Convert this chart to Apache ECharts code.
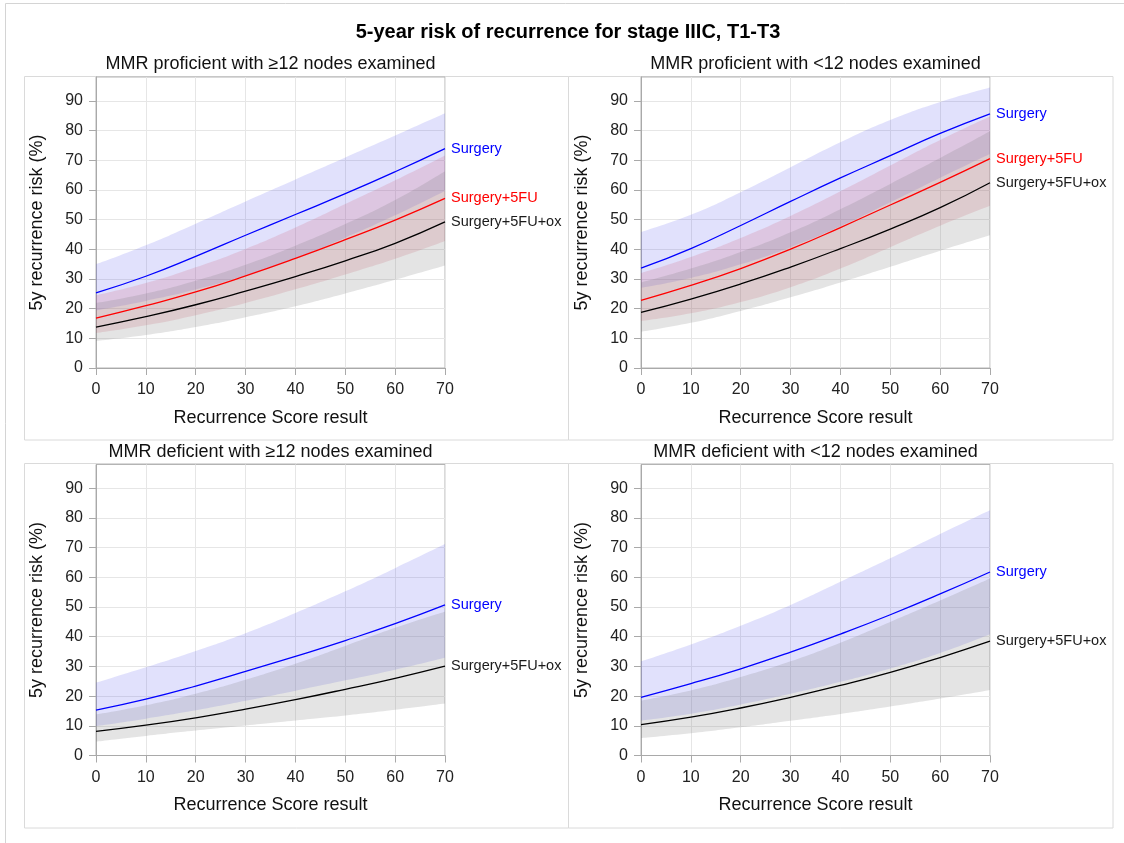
<!DOCTYPE html>
<html>
<head>
<meta charset="utf-8">
<title>5-year risk of recurrence for stage IIIC, T1-T3</title>
<script src="https://cdn.jsdelivr.net/npm/echarts@6/dist/echarts.min.js"></script>
<style>
  html, body { margin: 0; padding: 0; background: #ffffff; }
  #chart { width: 1124px; height: 843px; }
</style>
</head>
<body>
<div id="chart"></div>
<script>
// Recurrence Score grid and axis ticks
const scores = [0, 10, 20, 30, 40, 50, 60, 70];
const yTicks = [0, 10, 20, 30, 40, 50, 60, 70, 80, 90];

const treatments = ['Surgery', 'Surgery+5FU', 'Surgery+5FU+ox'];
const panelTitles = [
  'MMR proficient with \u226512 nodes examined',
  'MMR proficient with <12 nodes examined',
  'MMR deficient with \u226512 nodes examined',
  'MMR deficient with <12 nodes examined'
];

// MMR proficient, >=12 nodes: estimate and 95% band per treatment (%)
const p1Surgery   = [25.3, 30.9, 37.6, 44.7, 51.7, 58.7, 66.1, 73.9];
const p1SurgeryLo = [19.4, 22.6, 26.4, 31.2, 37.0, 43.9, 51.4, 59.6];
const p1SurgeryHi = [34.9, 41.3, 48.6, 56.1, 63.5, 70.9, 78.3, 85.8];
const p1Fu        = [16.8, 21.0, 25.6, 31.0, 36.9, 43.2, 49.8, 57.1];
const p1FuLo      = [11.8, 14.4, 17.8, 21.9, 26.5, 31.5, 36.8, 42.8];
const p1FuHi      = [24.5, 28.6, 33.9, 40.1, 47.3, 55.2, 63.2, 71.6];
const p1Ox        = [13.8, 17.3, 21.3, 25.9, 30.8, 36.1, 42.0, 49.2];
const p1OxLo      = [9.1, 11.1, 13.8, 17.1, 20.8, 25.1, 29.7, 34.5];
const p1OxHi      = [21.9, 25.1, 29.4, 34.8, 41.2, 48.5, 56.6, 66.3];

// MMR proficient, <12 nodes
const p2Surgery   = [33.6, 40.2, 48.0, 56.1, 64.0, 71.5, 79.0, 85.6];
const p2SurgeryLo = [27.0, 30.3, 34.9, 40.7, 47.7, 55.8, 64.1, 72.1];
const p2SurgeryHi = [45.8, 51.6, 59.2, 67.6, 76.0, 83.5, 89.6, 94.5];
const p2Fu        = [22.8, 27.8, 33.5, 40.0, 47.3, 54.9, 62.5, 70.5];
const p2FuLo      = [15.8, 18.4, 22.2, 27.2, 33.5, 40.7, 47.9, 54.6];
const p2FuHi      = [32.0, 37.4, 43.8, 51.2, 59.5, 68.2, 76.8, 84.7];
const p2Ox        = [18.7, 23.2, 28.3, 34.0, 40.2, 46.8, 54.0, 62.4];
const p2OxLo      = [12.2, 15.2, 19.2, 23.8, 28.8, 34.1, 39.5, 44.7];
const p2OxHi      = [28.8, 33.5, 39.1, 45.7, 53.5, 62.0, 70.7, 79.7];

// MMR deficient, >=12 nodes
const p3Surgery   = [15.3, 19.0, 23.4, 28.3, 33.4, 38.7, 44.4, 50.7];
const p3SurgeryLo = [9.9, 12.4, 15.2, 18.4, 21.8, 25.3, 28.9, 32.9];
const p3SurgeryHi = [24.5, 29.7, 35.2, 41.2, 48.0, 55.3, 63.1, 71.2];
const p3Ox        = [8.1, 10.2, 12.7, 15.6, 18.8, 22.3, 26.0, 30.1];
const p3OxLo      = [4.7, 6.6, 8.4, 10.1, 11.8, 13.5, 15.4, 17.5];
const p3OxHi      = [13.8, 16.9, 20.8, 25.5, 30.9, 36.9, 43.0, 48.4];

// MMR deficient, <12 nodes
const p4Surgery   = [19.6, 24.2, 29.2, 34.8, 40.9, 47.4, 54.4, 61.8];
const p4SurgeryLo = [11.8, 14.1, 17.2, 20.8, 24.8, 29.3, 34.5, 40.8];
const p4SurgeryHi = [31.7, 37.4, 43.7, 50.7, 58.5, 66.4, 74.6, 82.6];
const p4Ox        = [10.4, 12.9, 16.0, 19.6, 23.6, 28.0, 33.0, 38.5];
const p4OxLo      = [5.9, 7.5, 9.5, 11.7, 14.0, 16.5, 19.2, 22.1];
const p4OxHi      = [18.5, 21.9, 26.4, 31.7, 38.0, 45.0, 52.2, 59.6];

const FONT = '"Liberation Sans", Arial, Helvetica, sans-serif';
const lineColors = { 'Surgery': '#0000ff', 'Surgery+5FU': '#ff0000', 'Surgery+5FU+ox': '#000000' };
const labelColors = { 'Surgery': '#0000ff', 'Surgery+5FU': '#ff0000', 'Surgery+5FU+ox': '#1a1a1a' };
const bandColors = {
  'Surgery': 'rgba(90, 90, 240, 0.18)',
  'Surgery+5FU': 'rgba(205, 60, 90, 0.16)',
  'Surgery+5FU+ox': 'rgba(120, 120, 120, 0.20)'
};

const panels = [
  { curves: [
      { name: treatments[0], mid: p1Surgery, lo: p1SurgeryLo, hi: p1SurgeryHi },
      { name: treatments[1], mid: p1Fu, lo: p1FuLo, hi: p1FuHi },
      { name: treatments[2], mid: p1Ox, lo: p1OxLo, hi: p1OxHi } ] },
  { curves: [
      { name: treatments[0], mid: p2Surgery, lo: p2SurgeryLo, hi: p2SurgeryHi },
      { name: treatments[1], mid: p2Fu, lo: p2FuLo, hi: p2FuHi },
      { name: treatments[2], mid: p2Ox, lo: p2OxLo, hi: p2OxHi } ] },
  { curves: [
      { name: treatments[0], mid: p3Surgery, lo: p3SurgeryLo, hi: p3SurgeryHi },
      { name: treatments[2], mid: p3Ox, lo: p3OxLo, hi: p3OxHi } ] },
  { curves: [
      { name: treatments[0], mid: p4Surgery, lo: p4SurgeryLo, hi: p4SurgeryHi },
      { name: treatments[2], mid: p4Ox, lo: p4OxLo, hi: p4OxHi } ] }
];

// plot-area placement of the 2x2 panels
const gridBoxes = [
  { left: 96, top: 77, width: 349, height: 291 },
  { left: 641, top: 77, width: 349, height: 291 },
  { left: 96, top: 464.5, width: 349, height: 291 },
  { left: 641, top: 464.5, width: 349, height: 291 }
];

const axisGrey = '#a9a9a9';
const SMOOTH = 0.5;

const grids = [], xAxes = [], yAxes = [], series = [];

panels.forEach((panel, i) => {
  grids.push(Object.assign({
    show: true, borderColor: '#b4b4b4', borderWidth: 1,
    backgroundColor: 'transparent', containLabel: false, outerBoundsMode: 'none'
  }, gridBoxes[i]));

  // evenly spaced scores on a category axis so the bands can stack by index
  xAxes.push({
    gridIndex: i, type: 'category', data: scores.map(String), boundaryGap: false,
    name: 'Recurrence Score result', nameLocation: 'middle', nameGap: 41,
    nameTextStyle: { fontSize: 18, color: '#111', fontFamily: FONT },
    axisLine: { show: true, onZero: false, lineStyle: { color: axisGrey } },
    axisTick: { show: true, length: 7, interval: 0, lineStyle: { color: axisGrey } },
    axisLabel: { fontSize: 16, color: '#222', margin: 14, interval: 0, fontFamily: FONT },
    splitLine: { show: true, interval: 0, lineStyle: { color: '#e6e6e6', width: 1 } }
  });

  yAxes.push({
    gridIndex: i, type: 'value', min: 0, max: 98, interval: 10,
    name: '5y recurrence risk (%)', nameLocation: 'middle', nameGap: 50,
    nameTextStyle: { fontSize: 18, color: '#111', fontFamily: FONT },
    axisLine: { show: true, onZero: false, lineStyle: { color: axisGrey } },
    axisTick: { show: true, length: 7, lineStyle: { color: axisGrey }, customValues: yTicks },
    axisLabel: { fontSize: 16, color: '#222', margin: 13, fontFamily: FONT, customValues: yTicks },
    splitLine: { show: true, lineStyle: { color: '#e6e6e6', width: 1 } }
  });

  // confidence bands: invisible lower edge + stacked width with fill
  panel.curves.forEach((c) => {
    const stack = 'band-' + i + '-' + c.name;
    const common = {
      type: 'line', xAxisIndex: i, yAxisIndex: i, stack: stack,
      symbol: 'none', showSymbol: false, smooth: SMOOTH, silent: true,
      lineStyle: { width: 0, opacity: 0 }, z: 1, animation: false
    };
    series.push(Object.assign({}, common, { data: c.lo.slice() }));
    series.push(Object.assign({}, common, {
      data: c.hi.map((h, k) => +(h - c.lo[k]).toFixed(2)),
      areaStyle: { color: bandColors[c.name], opacity: 1 }
    }));
  });

  // estimate curves with their labels at the right end
  panel.curves.forEach((c) => {
    series.push({
      type: 'line', name: c.name, xAxisIndex: i, yAxisIndex: i,
      data: c.mid.slice(),
      symbol: 'none', showSymbol: false, smooth: SMOOTH, z: 3, animation: false,
      lineStyle: { color: lineColors[c.name], width: 1.3 },
      itemStyle: { color: lineColors[c.name] },
      endLabel: {
        show: true, formatter: '{a}', distance: 6,
        color: labelColors[c.name], fontSize: 14.5, fontFamily: FONT
      }
    });
  });
});

// frames and headings
const graphics = [
  { type: 'rect', z: -10, shape: { x: 5.5, y: 3.5, width: 1140, height: 860 },
    style: { fill: 'none', stroke: '#d4d4d4', lineWidth: 1 } },
  { type: 'rect', z: -10, shape: { x: 24.5, y: 76.5, width: 544, height: 363.5 },
    style: { fill: 'none', stroke: '#dadada', lineWidth: 1 } },
  { type: 'rect', z: -10, shape: { x: 568.5, y: 76.5, width: 544.5, height: 363.5 },
    style: { fill: 'none', stroke: '#dadada', lineWidth: 1 } },
  { type: 'rect', z: -10, shape: { x: 24.5, y: 463.5, width: 544, height: 364.5 },
    style: { fill: 'none', stroke: '#dadada', lineWidth: 1 } },
  { type: 'rect', z: -10, shape: { x: 568.5, y: 463.5, width: 544.5, height: 364.5 },
    style: { fill: 'none', stroke: '#dadada', lineWidth: 1 } },
  { type: 'text', x: 568, y: 32,
    style: { text: '5-year risk of recurrence for stage IIIC, T1-T3', fontSize: 20, fontWeight: 'bold',
             fontFamily: FONT, fill: '#000', align: 'center', verticalAlign: 'middle' } }
];
const titlePos = [[270.5, 64], [815.5, 64], [270.5, 452], [815.5, 452]];
panelTitles.forEach((t, i) => {
  graphics.push({
    type: 'text', x: titlePos[i][0], y: titlePos[i][1],
    style: { text: t, fontSize: 18, fontFamily: FONT, fill: '#111', align: 'center', verticalAlign: 'middle' }
  });
});

const chart = echarts.init(document.getElementById('chart'), null, { renderer: 'canvas' });
chart.setOption({
  backgroundColor: '#ffffff',
  animation: false,
  textStyle: { fontFamily: FONT },
  grid: grids,
  xAxis: xAxes,
  yAxis: yAxes,
  series: series,
  graphic: graphics
});
</script>
</body>
</html>
